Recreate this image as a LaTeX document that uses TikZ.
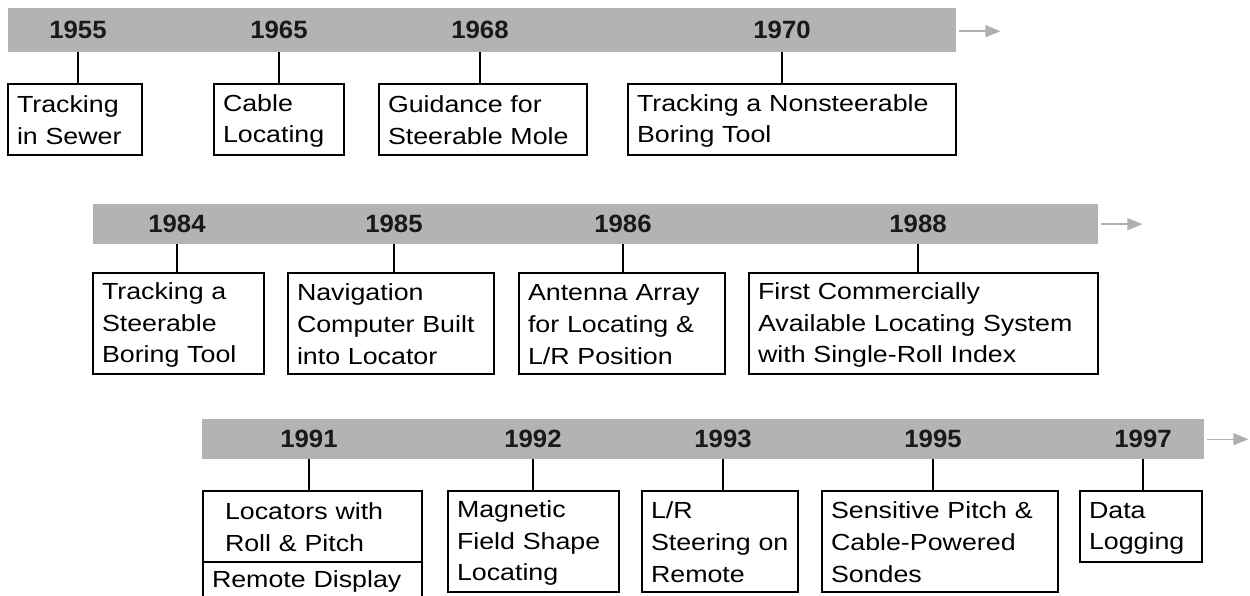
\documentclass[tikz,border=0pt]{standalone}
\usepackage{fontspec}
\setmainfont{Liberation Sans}
\newfontfamily\boxfont[FakeStretch=1.15]{Liberation Sans}
\newfontfamily\yearfont[FakeStretch=1.03]{Liberation Sans}
\usetikzlibrary{arrows.meta}
\definecolor{barcol}{RGB}{179,179,179}
\definecolor{arrcol}{RGB}{176,176,176}
\tikzset{
  bar/.style={fill=barcol, draw=none, inner sep=0pt, anchor=north west},
  yr/.style={font=\yearfont\bfseries\fontsize{25}{28}\selectfont, inner sep=0pt, text=black!90},
  ev/.style={draw=black, line width=1.5pt, inner xsep=9pt, inner ysep=0pt, align=left,
    font=\boxfont\fontsize{23.3}{31.7}\selectfont,
    execute at begin node={\rule{0pt}{20pt}},
    execute at end node={\rule[-2pt]{0pt}{2pt}}},
  tick/.style={line width=1.5pt, draw=black},
  fwd/.style={draw=arrcol, line width=1.4pt, -{Triangle[length=15pt,width=12pt]}},
}
\newcommand\EvNode[7][]{%
  \node[ev, minimum width={(#5-#3)*1pt}, minimum height={(#6-#4)*1pt},
        text width={(#5-#3-18)*1pt}, #1] (#2) at ({(#3+#5)/2},{(#4+#6)/2}) {#7};}
\begin{document}
\begin{tikzpicture}[x=1pt, y=-1pt]
\path[use as bounding box, fill=white] (0,0) rectangle (1250,596);

% ---------- Row 1 ----------
\node[bar, minimum width=948pt, minimum height=44pt] (bar1) at (8,8) {};
\node[yr] (y1955) at (78,30) {1955};
\node[yr] (y1965) at (279,30) {1965};
\node[yr] (y1968) at (480,30) {1968};
\node[yr] (y1970) at (782,30) {1970};
\EvNode{e1955}{8}{84}{142}{155}{Tracking\\in Sewer}
\EvNode{e1965}{214}{84}{344}{155}{Cable\\Locating}
\EvNode{e1968}{379}{84}{587}{155}{Guidance for\\Steerable Mole}
\EvNode{e1970}{628}{84}{956}{155}{Tracking a Nonsteerable\\Boring Tool}
\foreach \y/\e in {y1955/e1955, y1965/e1965, y1968/e1968, y1970/e1970}
  \draw[tick] (\y |- bar1.south) -- (\y |- \e.north);
\draw[fwd] ([xshift=3pt,yshift=-1pt]bar1.east) -- ++(41,0);

% ---------- Row 2 ----------
\node[bar, minimum width=1005pt, minimum height=40pt] (bar2) at (93,204) {};
\node[yr] (y1984) at (177,224) {1984};
\node[yr] (y1985) at (394,224) {1985};
\node[yr] (y1986) at (623,224) {1986};
\node[yr] (y1988) at (918,224) {1988};
\EvNode{e1984}{93}{273}{264}{374}{Tracking a\\Steerable\\Boring Tool}
\EvNode{e1985}{288}{273}{494}{374}{Navigation\\Computer Built\\into Locator}
\EvNode{e1986}{519}{273}{725}{374}{Antenna Array\\for Locating \&\\L/R Position}
\EvNode{e1988}{749}{273}{1098}{374}{First Commercially\\Available Locating System\\with Single-Roll Index}
\foreach \y/\e in {y1984/e1984, y1985/e1985, y1986/e1986, y1988/e1988}
  \draw[tick] (\y |- bar2.south) -- (\y |- \e.north);
\draw[fwd] ([xshift=3pt]bar2.east) -- ++(41,0);

% ---------- Row 3 ----------
\node[bar, minimum width=1002pt, minimum height=40pt] (bar3) at (202,419) {};
\node[yr] (y1991) at (309,439) {1991};
\node[yr] (y1992) at (533,439) {1992};
\node[yr] (y1993) at (723,439) {1993};
\node[yr] (y1995) at (933,439) {1995};
\node[yr] (y1997) at (1143,439) {1997};
\EvNode[inner xsep=22pt, text width={(422-203-44)*1pt}]{e1991}{203}{491}{422}{562}{Locators with\\Roll \& Pitch}
\EvNode{e1991b}{203}{562}{422}{598}{Remote Display}
\EvNode{e1992}{448}{491}{619}{592}{Magnetic\\Field Shape\\Locating}
\EvNode{e1993}{642}{491}{798}{592}{L/R\\Steering on\\Remote}
\EvNode{e1995}{822}{491}{1058}{592}{Sensitive Pitch \&\\Cable-Powered\\Sondes}
\EvNode{e1997}{1080}{491}{1202}{562}{Data\\Logging}
\foreach \y/\e in {y1991/e1991, y1992/e1992, y1993/e1993, y1995/e1995, y1997/e1997}
  \draw[tick] (\y |- bar3.south) -- (\y |- \e.north);
\draw[fwd] ([xshift=3pt]bar3.east) -- ++(41,0);
\end{tikzpicture}
\end{document}
